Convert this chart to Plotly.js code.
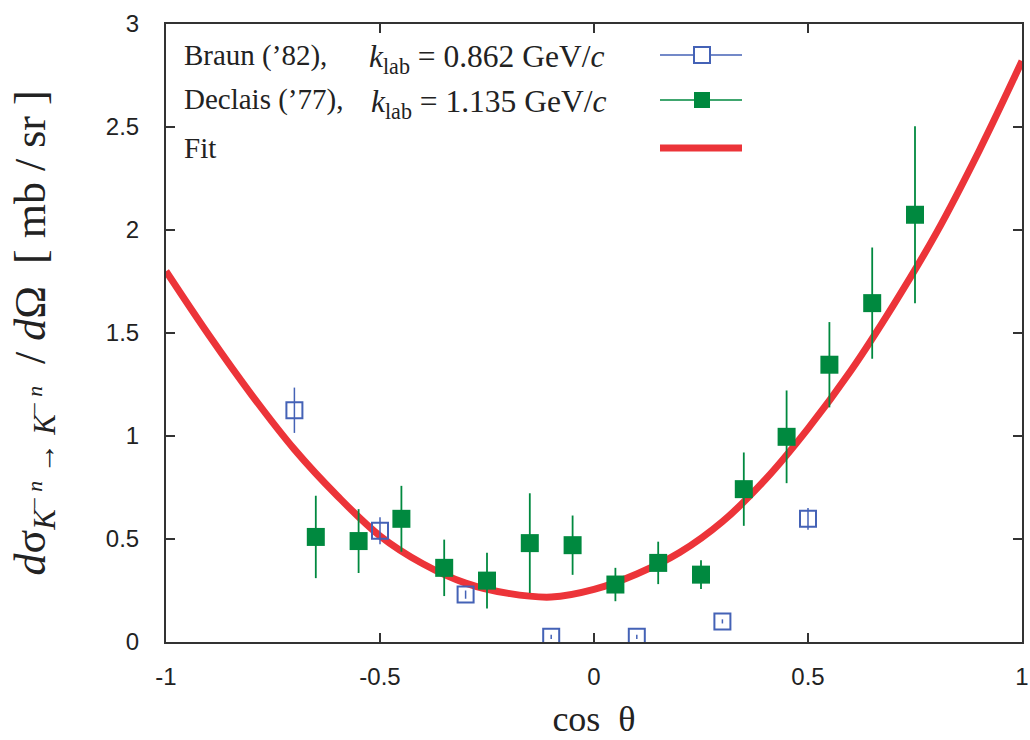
<!DOCTYPE html>
<html>
<head>
<meta charset="utf-8">
<script src="https://cdn.plot.ly/plotly-3.0.1.min.js"></script>
<style>html,body{margin:0;padding:0;background:#fff;}#chart{width:1030px;height:740px;}</style>
</head>
<body>
<div id="chart"></div>
<script>
// Braun ('82), k_lab = 0.862 GeV/c
const braunX = [-0.7, -0.5, -0.3, -0.1, 0.1, 0.3, 0.5];
const braunY = [1.125, 0.54, 0.23, 0.025, 0.025, 0.10, 0.598];
const braunErr = [0.11, 0.065, 0.02, 0.01, 0.01, 0.01, 0.053];

// Declais ('77), k_lab = 1.135 GeV/c
const declaisX = [-0.65, -0.55, -0.45, -0.35, -0.25, -0.15, -0.05, 0.05, 0.15, 0.25, 0.35, 0.45, 0.55, 0.65, 0.75];
const declaisY = [0.51, 0.49, 0.598, 0.36, 0.298, 0.48, 0.47, 0.279, 0.384, 0.327, 0.742, 0.996, 1.346, 1.645, 2.074];
const declaisErr = [0.20, 0.155, 0.16, 0.137, 0.135, 0.242, 0.144, 0.081, 0.103, 0.07, 0.178, 0.225, 0.207, 0.27, 0.43];

// Fit curve
const fitX = [-1, -0.9, -0.8, -0.7, -0.6, -0.5, -0.4, -0.3, -0.2, -0.1, 0, 0.1, 0.2, 0.3, 0.4, 0.5, 0.6, 0.7, 0.8, 0.9, 1.0];
const fitY = [1.80, 1.49, 1.20, 0.935, 0.71, 0.515, 0.38, 0.286, 0.236, 0.218, 0.255, 0.33, 0.434, 0.584, 0.788, 1.036, 1.317, 1.637, 1.986, 2.385, 2.82];

// Axis ticks
const xTickVals = [-1, -0.5, 0, 0.5, 1];
const xTickText = ['-1', '-0.5', '0', '0.5', '1'];
const yTickVals = [0, 0.5, 1, 1.5, 2, 2.5, 3];
const yTickText = ['0', '0.5', '1', '1.5', '2', '2.5', '3'];

// Legend labels
const legendNames = ['Braun (’82),', 'Declais (’77),', 'Fit'];
const legendK = ['<i>k</i><sub>lab</sub> = 0.862 GeV/<i>c</i>', '<i>k</i><sub>lab</sub> = 1.135 GeV/<i>c</i>'];

const RED = '#ec3439', GREEN = '#00893f', BLUE = '#4462b6';
const SERIF = 'Liberation Serif, Times New Roman, serif';
const SANS = 'Liberation Sans, Arial, sans-serif';

const traces = [
  {x: fitX, y: fitY, type: 'scatter', mode: 'lines', line: {color: RED, width: 7, shape: 'spline', smoothing: 1}, hoverinfo: 'skip', showlegend: false},
  {x: braunX, y: braunY, type: 'scatter', mode: 'markers',
   marker: {symbol: 'square-open', size: 16, color: BLUE, line: {width: 2, color: BLUE}},
   error_y: {type: 'data', array: braunErr, visible: true, thickness: 1.5, width: 0, color: BLUE}, showlegend: false},
  {x: declaisX, y: declaisY, type: 'scatter', mode: 'markers',
   marker: {symbol: 'square', size: 18, color: GREEN},
   error_y: {type: 'data', array: declaisErr, visible: true, thickness: 1.8, width: 0, color: GREEN}, showlegend: false}
];

// legend geometry in paper coords
const W = 856, H = 618;
const px = v => (v - 166) / W;
const py = v => (642 - v) / H;
const rowY = [55, 100, 148];
const hx = 8 / W, hy = 8 / H;
const LF = 29;

const annotations = [];
for (let i = 0; i < 3; i++) {
  annotations.push({xref: 'paper', yref: 'paper', x: px(182), y: py(rowY[i]), xanchor: 'left', yanchor: 'middle',
    text: legendNames[i], showarrow: false, font: {family: SERIF, size: LF, color: '#222'}});
}
annotations.push({xref: 'paper', yref: 'paper', x: px(367), y: py(rowY[0] + 4), xanchor: 'left', yanchor: 'middle',
  text: legendK[0], showarrow: false, font: {family: SERIF, size: 31.5, color: '#222'}});
annotations.push({xref: 'paper', yref: 'paper', x: px(369), y: py(rowY[1] + 4), xanchor: 'left', yanchor: 'middle',
  text: legendK[1], showarrow: false, font: {family: SERIF, size: 31.5, color: '#222'}});

const shapes = [
  {type: 'line', xref: 'paper', yref: 'paper', x0: px(660), x1: px(742), y0: py(rowY[0]), y1: py(rowY[0]), line: {color: BLUE, width: 1.5}},
  {type: 'rect', xref: 'paper', yref: 'paper', x0: px(702) - hx, x1: px(702) + hx, y0: py(rowY[0]) - hy, y1: py(rowY[0]) + hy, line: {color: BLUE, width: 2}, fillcolor: 'rgba(255,255,255,1)'},
  {type: 'line', xref: 'paper', yref: 'paper', x0: px(660), x1: px(742), y0: py(rowY[1]), y1: py(rowY[1]), line: {color: GREEN, width: 1.5}},
  {type: 'rect', xref: 'paper', yref: 'paper', x0: px(702) - hx, x1: px(702) + hx, y0: py(rowY[1]) - hy, y1: py(rowY[1]) + hy, line: {color: GREEN, width: 0}, fillcolor: GREEN},
  {type: 'line', xref: 'paper', yref: 'paper', x0: px(660), x1: px(742), y0: py(rowY[2]), y1: py(rowY[2]), line: {color: RED, width: 7}}
];

const yTitle = '<i>d</i>σ<sub><i>K</i><sup>− <i>n</i></sup> → <i>K</i><sup>− <i>n</i></sup></sub>  / <i>d</i>Ω  [ mb / sr ]';

const layout = {
  width: 1030, height: 740,
  margin: {l: 166, r: 8, t: 24, b: 98},
  paper_bgcolor: '#fff', plot_bgcolor: '#fff',
  showlegend: false,
  xaxis: {
    range: [-1, 1], tickvals: xTickVals, ticktext: xTickText,
    ticks: 'inside', ticklen: 9, tickwidth: 2, tickcolor: '#333',
    showline: true, linewidth: 2, linecolor: '#333', mirror: 'ticks',
    showgrid: false, zeroline: false,
    tickfont: {family: SANS, size: 24, color: '#222'}, ticklabelstandoff: 12,
    title: {text: 'cos  θ', font: {family: SERIF, size: 36, color: '#222'}, standoff: 17}
  },
  yaxis: {
    range: [0, 3], tickvals: yTickVals, ticktext: yTickText,
    ticks: 'inside', ticklen: 9, tickwidth: 2, tickcolor: '#333',
    showline: true, linewidth: 2, linecolor: '#333', mirror: 'ticks',
    showgrid: false, zeroline: false,
    tickfont: {family: SANS, size: 24, color: '#222'}, ticklabelstandoff: 20,
    title: {text: yTitle, font: {family: SERIF, size: 44, color: '#222'}, standoff: 46}
  },
  annotations: annotations,
  shapes: shapes
};

Plotly.newPlot('chart', traces, layout, {displayModeBar: false, staticPlot: true});
</script>
</body>
</html>
